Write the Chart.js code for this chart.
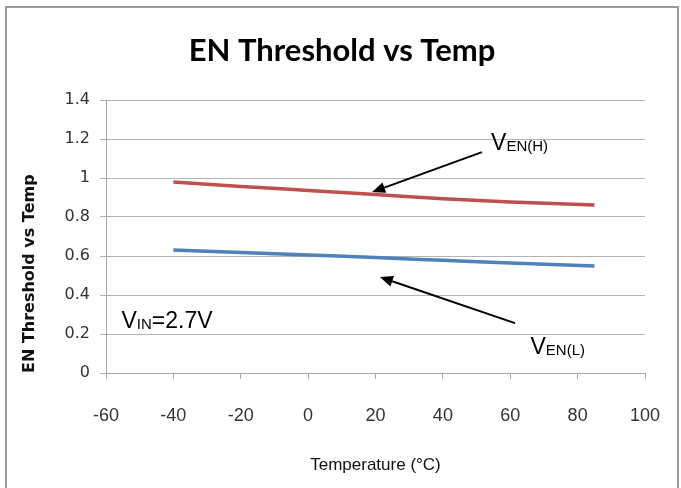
<!DOCTYPE html>
<html>
<head>
<meta charset="utf-8">
<script src="https://cdn.jsdelivr.net/npm/chart.js@4.4.1/dist/chart.umd.min.js"></script>
<style>
html,body{margin:0;padding:0;background:#fff;overflow:hidden}
#wrap{position:relative;width:681px;height:488px}
</style>
</head>
<body>
<div id="wrap"><canvas id="c" width="681" height="488"></canvas></div>
<script>
// ---- data ----
const temperatures = [-40, -20, 0, 20, 40, 60, 85];
const venHigh = [0.979, 0.957, 0.936, 0.915, 0.894, 0.877, 0.862];
const venLow  = [0.631, 0.618, 0.605, 0.592, 0.578, 0.564, 0.549];
const xTickValues = [-60, -40, -20, 0, 20, 40, 60, 80, 100];
const yTickValues = [0, 0.2, 0.4, 0.6, 0.8, 1, 1.2, 1.4];
const chartTitle = 'EN Threshold vs Temp';
const xTitle = 'Temperature (\u00B0C)';
const yTitle = 'EN Threshold vs Temp';

// annotation texts (main part + subscript) and anchor points in data units
const annotations = [
  { main: 'V', sub: 'EN(H)', rest: '', x: 54.3, y: 1.142,
    arrow: { from: [51.6, 1.133], to: [19, 0.928] } },
  { main: 'V', sub: 'EN(L)', rest: '', x: 66.0, y: 0.097,
    arrow: { from: [61.4, 0.256], to: [21.3, 0.492] } },
  { main: 'V', sub: 'IN', rest: '=2.7V', x: -55.4, y: 0.232, arrow: null }
];

const toPoints = (xs, ys) => xs.map((x, i) => ({ x: x, y: ys[i] }));

const framePlugin = {
  id: 'frame',
  beforeDraw(chart) {
    const ctx = chart.ctx;
    ctx.save();
    ctx.fillStyle = '#ffffff';
    ctx.fillRect(0, 0, chart.width, chart.height);
    ctx.strokeStyle = '#9a9a9a';
    ctx.lineWidth = 2;
    ctx.strokeRect(6, 7, 672, 600);
    ctx.fillStyle = '#000';
    ctx.font = 'bold 31px Lato, "Liberation Sans", sans-serif';
    ctx.textAlign = 'center';
    ctx.textBaseline = 'middle';
    ctx.fillText(chartTitle, 342, 51);
    ctx.restore();
  }
};

const annotationPlugin = {
  id: 'notes',
  afterDatasetsDraw(chart) {
    const ctx = chart.ctx;
    const xs = chart.scales.x, ys = chart.scales.y;
    ctx.save();
    annotations.forEach(a => {
      if (a.arrow) {
        const x1 = xs.getPixelForValue(a.arrow.from[0]);
        const y1 = ys.getPixelForValue(a.arrow.from[1]);
        const x2 = xs.getPixelForValue(a.arrow.to[0]);
        const y2 = ys.getPixelForValue(a.arrow.to[1]);
        const ang = Math.atan2(y2 - y1, x2 - x1);
        const hl = 13, hw = 5.5;
        const bx = x2 - hl * Math.cos(ang), by = y2 - hl * Math.sin(ang);
        ctx.strokeStyle = '#000';
        ctx.lineWidth = 2;
        ctx.beginPath();
        ctx.moveTo(x1, y1);
        ctx.lineTo(bx, by);
        ctx.stroke();
        ctx.fillStyle = '#000';
        ctx.beginPath();
        ctx.moveTo(x2, y2);
        ctx.lineTo(bx + hw * Math.sin(ang), by - hw * Math.cos(ang));
        ctx.lineTo(bx - hw * Math.sin(ang), by + hw * Math.cos(ang));
        ctx.closePath();
        ctx.fill();
      }
      let px = xs.getPixelForValue(a.x);
      const py = ys.getPixelForValue(a.y);
      ctx.fillStyle = '#000';
      ctx.textBaseline = 'alphabetic';
      ctx.textAlign = 'left';
      ctx.font = '23px "Liberation Sans", Arial, sans-serif';
      ctx.fillText(a.main, px, py);
      px += ctx.measureText(a.main).width;
      ctx.font = '15px "Liberation Sans", Arial, sans-serif';
      ctx.fillText(a.sub, px, py + 1);
      px += ctx.measureText(a.sub).width;
      if (a.rest) {
        ctx.font = '23px "Liberation Sans", Arial, sans-serif';
        ctx.fillText(a.rest, px, py);
      }
    });
    ctx.restore();
  }
};

new Chart(document.getElementById('c'), {
  type: 'line',
  data: {
    datasets: [
      { label: 'VEN(H)', data: toPoints(temperatures, venHigh), borderColor: '#c0504d',
        borderWidth: 3.5, pointRadius: 0, cubicInterpolationMode: 'monotone', fill: false },
      { label: 'VEN(L)', data: toPoints(temperatures, venLow), borderColor: '#4f81bd',
        borderWidth: 3.5, pointRadius: 0, cubicInterpolationMode: 'monotone', fill: false }
    ]
  },
  options: {
    responsive: false,
    animation: false,
    events: [],
    layout: { padding: { left: 0, right: 36, top: 100, bottom: 0 } },
    plugins: {
      legend: { display: false },
      tooltip: { enabled: false },
      title: { display: false }
    },
    scales: {
      x: {
        type: 'linear',
        min: -60, max: 100,
        afterBuildTicks: s => { s.ticks = xTickValues.map(v => ({ value: v })); },
        afterFit: s => { s.height = 115; },
        grid: { drawOnChartArea: false, drawTicks: true, tickLength: 6, color: '#a6a6a6' },
        border: { display: true, color: '#a6a6a6', width: 1 },
        ticks: {
          color: '#333',
          padding: 17,
          maxRotation: 0,
          font: { family: '"Liberation Sans", sans-serif', size: 18, lineHeight: 2.2 }
        },
        title: {
          display: true, text: xTitle, color: '#111',
          font: { family: '"Liberation Sans", sans-serif', size: 17 },
          padding: { top: 0, bottom: 12 }
        }
      },
      y: {
        min: 0, max: 1.4,
        afterBuildTicks: s => { s.ticks = yTickValues.map(v => ({ value: v })); },
        afterFit: s => { s.width = 106; },
        grid: { color: '#b3b3b3', tickLength: 6, drawTicks: true },
        border: { display: true, color: '#a6a6a6', width: 1 },
        ticks: {
          color: '#333',
          padding: 10,
          font: { family: '"DejaVu Sans", sans-serif', size: 16 },
          callback: v => String(v)
        },
        title: {
          display: true, text: yTitle, color: '#111', align: 'start',
          font: { family: '"DejaVu Sans", sans-serif', size: 16, weight: 'bold' },
          padding: { top: 20, bottom: 0 }
        }
      }
    }
  },
  plugins: [framePlugin, annotationPlugin]
});
</script>
</body>
</html>
